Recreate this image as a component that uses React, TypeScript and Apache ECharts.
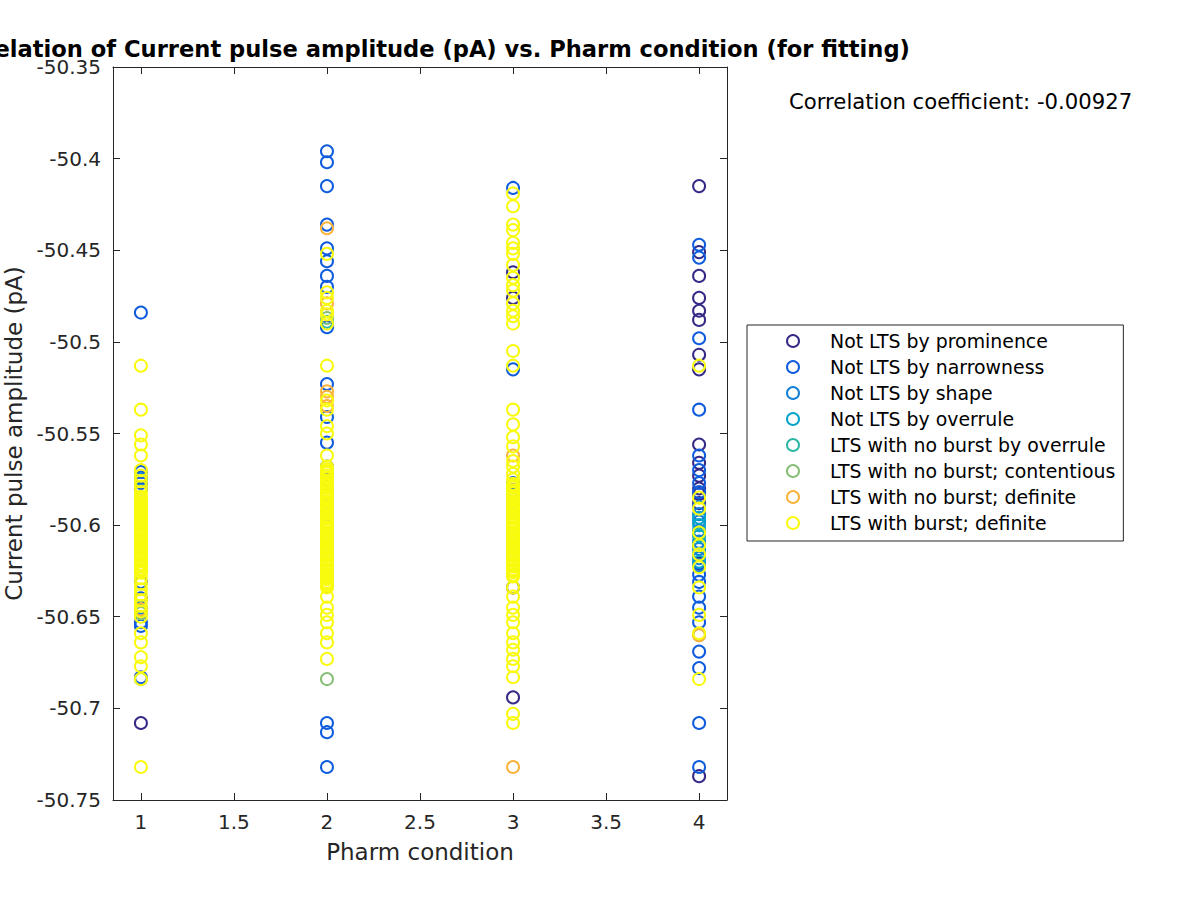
import React, { useEffect, useRef } from "react";
import * as echarts from "echarts";

const conditions = [1, 2, 3, 4];
const xTicks = [1, 1.5, 2, 2.5, 3, 3.5, 4];
const yTicks = [-50.75, -50.7, -50.65, -50.6, -50.55, -50.5, -50.45, -50.4, -50.35];

const seriesNames = [
  "Not LTS by prominence",
  "Not LTS by narrowness",
  "Not LTS by shape",
  "Not LTS by overrule",
  "LTS with no burst by overrule",
  "LTS with no burst; contentious",
  "LTS with no burst; definite",
  "LTS with burst; definite",
];
const seriesColors = ["#352A87", "#0F5CDD", "#1481D6", "#06A4CA", "#2EB7A4", "#87BF77", "#FBB33A", "#F9FB0E"];

// values per condition: index 0 -> condition 1, ..., index 3 -> condition 4
const notLtsProminence: number[][] = [
  [-50.708],
  [-50.579, -50.633],
  [-50.462, -50.476, -50.581, -50.634, -50.694],
  [-50.415, -50.451, -50.464, -50.476, -50.483, -50.488, -50.507, -50.515, -50.556, -50.566, -50.573, -50.58, -50.583, -50.588, -50.621, -50.737],
];
const notLtsNarrowness: number[][] = [
  [-50.484, -50.571, -50.574, -50.577, -50.58, -50.631, -50.64, -50.653, -50.655, -50.683],
  [-50.396, -50.402, -50.415, -50.436, -50.449, -50.456, -50.464, -50.47, -50.492, -50.523, -50.541, -50.555, -50.568, -50.575, -50.583, -50.594, -50.606, -50.708, -50.713, -50.732],
  [-50.416, -50.515, -50.577, -50.588],
  [-50.447, -50.454, -50.498, -50.537, -50.562, -50.57, -50.577, -50.582, -50.627, -50.631, -50.639, -50.645, -50.653, -50.669, -50.678, -50.708, -50.732],
];
const notLtsShape: number[][] = [
  [-50.575, -50.645],
  [],
  [],
  [-50.59, -50.594, -50.598, -50.603, -50.609, -50.613, -50.618, -50.622],
];
const notLtsOverrule: number[][] = [
  [],
  [],
  [],
  [-50.596, -50.6, -50.606, -50.611, -50.616, -50.62],
];
const ltsNoBurstOverrule: number[][] = [
  [],
  [-50.489],
  [],
  [-50.605],
];
const ltsNoBurstContentious: number[][] = [
  [-50.648, -50.684],
  [-50.487, -50.684],
  [],
  [-50.66],
];
const ltsNoBurstDefinite: number[][] = [
  [-50.604, -50.616, -50.641, -50.646],
  [-50.438, -50.479, -50.527, -50.53, -50.535, -50.6, -50.621],
  [-50.562, -50.732],
  [-50.66],
];
const ltsBurstDefinite: number[][] = [
  [
    -50.513, -50.537, -50.551, -50.556, -50.562, -50.57, -50.573, -50.576, -50.579, -50.582,
    -50.5845, -50.5855, -50.5865, -50.5875, -50.589, -50.59, -50.5905, -50.5915, -50.593, -50.594, -50.5945,
    -50.596, -50.597, -50.598, -50.5985, -50.5995, -50.601, -50.602, -50.6025, -50.604, -50.605, -50.6055,
    -50.607, -50.608, -50.6085, -50.6095, -50.611, -50.612, -50.6125, -50.6135, -50.615, -50.616, -50.6165,
    -50.618, -50.619, -50.6195, -50.621, -50.622, -50.6225, -50.624, -50.625, -50.626,
    -50.629, -50.632, -50.635, -50.638, -50.641, -50.644, -50.647, -50.65, -50.659, -50.664, -50.672, -50.677, -50.684, -50.732,
  ],
  [
    -50.452, -50.473, -50.476, -50.483, -50.485, -50.49, -50.513, -50.532, -50.537, -50.546, -50.55, -50.562,
    -50.568, -50.5695, -50.5705, -50.5715, -50.573, -50.574, -50.5745, -50.576, -50.577, -50.578, -50.5785,
    -50.5795, -50.581, -50.582, -50.5825, -50.584, -50.585, -50.5855, -50.587, -50.588, -50.5885, -50.5895,
    -50.591, -50.592, -50.5925, -50.5935, -50.595, -50.596, -50.5965, -50.598, -50.599, -50.5995, -50.601,
    -50.602, -50.6025, -50.604, -50.605, -50.6055, -50.607, -50.608, -50.6085, -50.6095, -50.611, -50.612,
    -50.6125, -50.6135, -50.615, -50.616, -50.6165, -50.618, -50.619, -50.6195, -50.621, -50.622, -50.6225,
    -50.624, -50.625, -50.6255, -50.627, -50.628, -50.6285, -50.6295, -50.631, -50.632, -50.633, -50.634,
    -50.639, -50.645, -50.649, -50.653, -50.659, -50.664, -50.673,
  ],
  [
    -50.419, -50.426, -50.436, -50.439, -50.446, -50.449, -50.452, -50.458, -50.465, -50.469, -50.472, -50.479,
    -50.483, -50.486, -50.49, -50.505, -50.513, -50.537, -50.545, -50.552, -50.557, -50.565, -50.568, -50.572,
    -50.575, -50.5775, -50.5785, -50.5795, -50.581, -50.582, -50.5825, -50.584, -50.585, -50.5855, -50.587,
    -50.588, -50.5885, -50.5895, -50.591, -50.592, -50.5925, -50.5935, -50.595, -50.596, -50.5965, -50.598,
    -50.599, -50.5995, -50.601, -50.602, -50.6025, -50.604, -50.605, -50.6055, -50.607, -50.608, -50.6085,
    -50.6095, -50.611, -50.612, -50.6125, -50.6135, -50.615, -50.616, -50.6165, -50.618, -50.619, -50.6195,
    -50.621, -50.622, -50.6225, -50.624, -50.625, -50.6255, -50.627, -50.628,
    -50.634, -50.639, -50.645, -50.649, -50.653, -50.659, -50.664, -50.668, -50.673, -50.677, -50.683, -50.703, -50.708,
  ],
  [-50.513, -50.585, -50.591, -50.604, -50.611, -50.616, -50.623, -50.634, -50.649, -50.659, -50.684],
];

const allSeriesValues = [
  notLtsProminence,
  notLtsNarrowness,
  notLtsShape,
  notLtsOverrule,
  ltsNoBurstOverrule,
  ltsNoBurstContentious,
  ltsNoBurstDefinite,
  ltsBurstDefinite,
];

const titleText = "Correlation of Current pulse amplitude (pA) vs. Pharm condition (for fitting)";
const correlationText = "Correlation coefficient: -0.00927";
const xName = "Pharm condition";
const yName = "Current pulse amplitude (pA)";

const FONT = "'DejaVu Sans', sans-serif";
const AXIS_COLOR = "#262626";

const fmt = (v: number) => String(parseFloat(v.toFixed(2)));

export default function App() {
  const ref = useRef<HTMLDivElement>(null);
  useEffect(() => {
    if (!ref.current) return;
    const chart = echarts.init(ref.current, undefined, { renderer: "svg" });
    const grid = { left: 113, top: 67, width: 614, height: 733, containLabel: false, outerBoundsMode: "none" };
    const axisLine = { show: true, lineStyle: { color: AXIS_COLOR, width: 1 } };
    const series = allSeriesValues.map((vals, si) => ({
      name: seriesNames[si],
      type: "scatter",
      xAxisIndex: 0,
      yAxisIndex: 0,
      symbol: "circle",
      symbolSize: 12,
      itemStyle: { color: "rgba(0,0,0,0)", borderColor: seriesColors[si], borderWidth: 2, opacity: 1 },
      emphasis: { disabled: true },
      data: vals.flatMap((arr, ci) => arr.map((v) => [conditions[ci], v])),
      z: 2 + si,
    }));
    chart.setOption({
      animation: false,
      textStyle: { fontFamily: FONT },
      title: {
        text: titleText,
        left: 420,
        top: 32,
        textAlign: "center",
        textStyle: { fontFamily: FONT, fontSize: 22.6, fontWeight: "bold", color: "#000" },
      },
      grid,
      legend: {
        orient: "vertical",
        left: 747,
        top: 325,
        padding: [3, 8, 5, 39],
        itemWidth: 64,
        itemHeight: 12,
        itemGap: 0,
        icon: "circle",
        borderColor: AXIS_COLOR,
        borderWidth: 1,
        backgroundColor: "#fff",
        selectedMode: false,
        textStyle: { fontFamily: FONT, fontSize: 18.9, color: "#000", lineHeight: 26 },
        data: seriesNames.map((n, i) => ({
          name: n,
          itemStyle: { color: "rgba(0,0,0,0)", borderColor: seriesColors[i], borderWidth: 2, opacity: 1 },
        })),
      },
      graphic: [
        {
          type: "text",
          left: 789,
          top: 91,
          style: { text: correlationText, fontSize: 21.2, fontFamily: FONT, fill: "#000" },
        },
      ],
      xAxis: [
        {
          type: "value",
          min: 0.85,
          max: 4.15,
          position: "bottom",
          axisLine,
          splitLine: { show: false },
          axisTick: { show: true, inside: true, length: 7, customValues: xTicks, lineStyle: { color: AXIS_COLOR } },
          axisLabel: { customValues: xTicks, formatter: fmt, color: AXIS_COLOR, fontSize: 20, fontFamily: FONT, margin: 12 },
          name: xName,
          nameLocation: "middle",
          nameGap: 40,
          nameTextStyle: { fontSize: 23, fontFamily: FONT, color: AXIS_COLOR },
        },
        {
          type: "value",
          min: 0.85,
          max: 4.15,
          position: "top",
          axisLine,
          splitLine: { show: false },
          axisTick: { show: true, inside: true, length: 7, customValues: xTicks, lineStyle: { color: AXIS_COLOR } },
          axisLabel: { show: false },
        },
      ],
      yAxis: [
        {
          type: "value",
          min: -50.75,
          max: -50.35,
          position: "left",
          axisLine,
          splitLine: { show: false },
          axisTick: { show: true, inside: true, length: 7, customValues: yTicks, lineStyle: { color: AXIS_COLOR } },
          axisLabel: { customValues: yTicks, formatter: fmt, color: AXIS_COLOR, fontSize: 20, fontFamily: FONT, margin: 12 },
          name: yName,
          nameLocation: "middle",
          nameGap: 86,
          nameTextStyle: { fontSize: 23, fontFamily: FONT, color: AXIS_COLOR },
        },
        {
          type: "value",
          min: -50.75,
          max: -50.35,
          position: "right",
          axisLine,
          splitLine: { show: false },
          axisTick: { show: true, inside: true, length: 7, customValues: yTicks, lineStyle: { color: AXIS_COLOR } },
          axisLabel: { show: false },
        },
      ],
      series,
    });
    return () => chart.dispose();
  }, []);
  return (
    <div
      ref={ref}
      style={{ position: "absolute", left: 0, top: 0, width: 1200, height: 900, background: "#fff" }}
    />
  );
}
